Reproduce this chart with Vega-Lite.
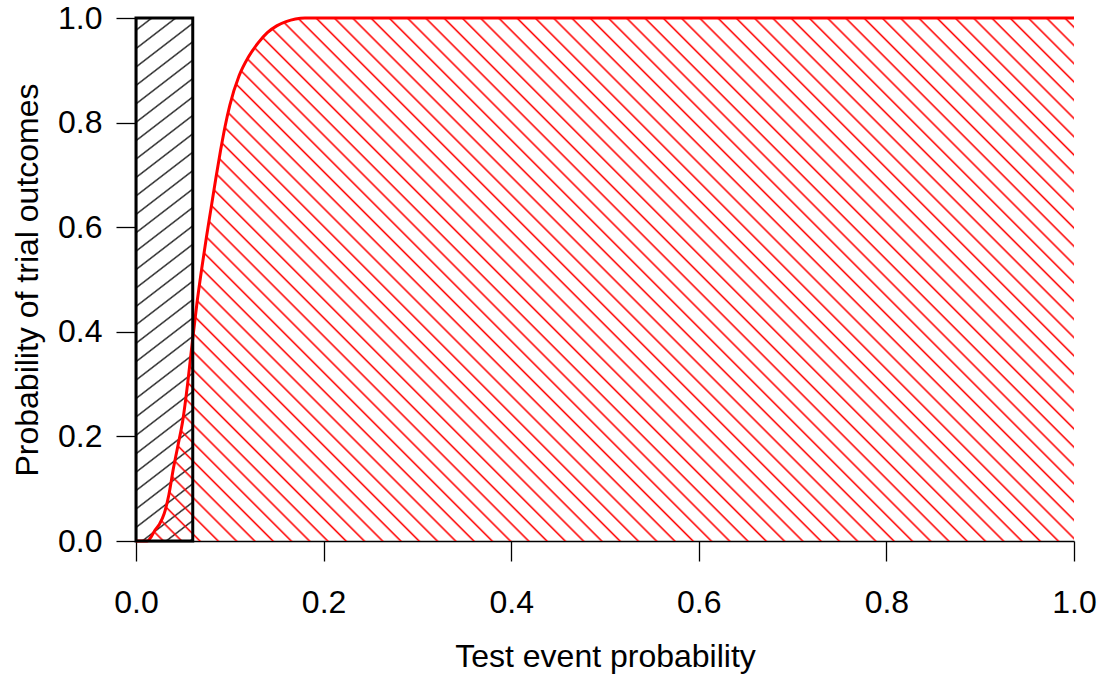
{
  "$schema": "https://vega.github.io/schema/vega-lite/v6.json",
  "width": 938,
  "height": 523,
  "autosize": {"type": "none"},
  "padding": {"left": 136, "top": 18, "right": 27, "bottom": 136},
  "background": "white",
  "config": {
    "view": {"stroke": null},
    "font": "Liberation Sans",
    "axis": {
      "grid": false,
      "labelFontSize": 32,
      "titleFontSize": 32,
      "titleFontWeight": "normal",
      "labelColor": "#000000",
      "titleColor": "#000000",
      "domainColor": "#000000",
      "tickColor": "#000000",
      "domainWidth": 1.3,
      "tickWidth": 1.3,
      "tickSize": 20,
      "labelFlush": false,
      "labelOverlap": false
    }
  },
  "datasets": {
    "curve": [
      {"p": 0, "prob": 0},
      {"p": 0.012, "prob": 0},
      {"p": 0.015, "prob": 0.005},
      {"p": 0.02, "prob": 0.02},
      {"p": 0.025, "prob": 0.032},
      {"p": 0.03, "prob": 0.052},
      {"p": 0.035, "prob": 0.088},
      {"p": 0.04, "prob": 0.14},
      {"p": 0.045, "prob": 0.185},
      {"p": 0.05, "prob": 0.232},
      {"p": 0.055, "prob": 0.3},
      {"p": 0.06, "prob": 0.38},
      {"p": 0.065, "prob": 0.455},
      {"p": 0.07, "prob": 0.52},
      {"p": 0.075, "prob": 0.58},
      {"p": 0.08, "prob": 0.636},
      {"p": 0.085, "prob": 0.692},
      {"p": 0.09, "prob": 0.745},
      {"p": 0.095, "prob": 0.793},
      {"p": 0.1, "prob": 0.833},
      {"p": 0.11, "prob": 0.89},
      {"p": 0.12, "prob": 0.926},
      {"p": 0.13, "prob": 0.952},
      {"p": 0.14, "prob": 0.972},
      {"p": 0.15, "prob": 0.985},
      {"p": 0.16, "prob": 0.993},
      {"p": 0.17, "prob": 0.998},
      {"p": 0.18, "prob": 1},
      {"p": 1, "prob": 1}
    ],
    "box": [{"p": 0, "p2": 0.0605, "prob": 0, "prob2": 1}]
  },
  "encoding": {
    "x": {
      "field": "p",
      "type": "quantitative",
      "scale": {"domain": [0, 1], "nice": false},
      "axis": {
        "title": "Test event probability",
        "values": [0, 0.2, 0.4, 0.6, 0.8, 1],
        "format": ".1f",
        "labelPadding": 26,
        "titleX": 469,
        "titleY": 125,
        "titleBaseline": "alphabetic",
        "titleAnchor": "middle"
      }
    },
    "y": {
      "field": "prob",
      "type": "quantitative",
      "scale": {"domain": [0, 1], "nice": false},
      "axis": {
        "title": "Probability of trial outcomes",
        "values": [0, 0.2, 0.4, 0.6, 0.8, 1],
        "format": ".1f",
        "labelPadding": 14,
        "titleX": -99,
        "titleY": 261.5,
        "titleAngle": -90,
        "titleBaseline": "alphabetic",
        "titleAnchor": "middle"
      }
    }
  },
  "layer": [
    {
      "data": {"name": "box"},
      "mark": {
        "type": "rect",
        "strokeWidth": 0,
        "fill": {
          "gradient": "linear",
          "x1": 0, "y1": 0, "x2": 0.0899, "y2": 1.076,
          "stops": [
            {"offset": 0.0185, "color": "rgba(0,0,0,0)"}, {"offset": 0.0215, "color": "#222222"}, {"offset": 0.0245, "color": "rgba(0,0,0,0)"},
            {"offset": 0.051, "color": "rgba(0,0,0,0)"}, {"offset": 0.054, "color": "#222222"}, {"offset": 0.057, "color": "rgba(0,0,0,0)"},
            {"offset": 0.0835, "color": "rgba(0,0,0,0)"}, {"offset": 0.0865, "color": "#222222"}, {"offset": 0.0895, "color": "rgba(0,0,0,0)"},
            {"offset": 0.116, "color": "rgba(0,0,0,0)"}, {"offset": 0.119, "color": "#222222"}, {"offset": 0.122, "color": "rgba(0,0,0,0)"},
            {"offset": 0.1485, "color": "rgba(0,0,0,0)"}, {"offset": 0.1515, "color": "#222222"}, {"offset": 0.1545, "color": "rgba(0,0,0,0)"},
            {"offset": 0.181, "color": "rgba(0,0,0,0)"}, {"offset": 0.184, "color": "#222222"}, {"offset": 0.187, "color": "rgba(0,0,0,0)"},
            {"offset": 0.2135, "color": "rgba(0,0,0,0)"}, {"offset": 0.2165, "color": "#222222"}, {"offset": 0.2195, "color": "rgba(0,0,0,0)"},
            {"offset": 0.246, "color": "rgba(0,0,0,0)"}, {"offset": 0.249, "color": "#222222"}, {"offset": 0.252, "color": "rgba(0,0,0,0)"},
            {"offset": 0.2785, "color": "rgba(0,0,0,0)"}, {"offset": 0.2815, "color": "#222222"}, {"offset": 0.2845, "color": "rgba(0,0,0,0)"},
            {"offset": 0.311, "color": "rgba(0,0,0,0)"}, {"offset": 0.314, "color": "#222222"}, {"offset": 0.317, "color": "rgba(0,0,0,0)"},
            {"offset": 0.3435, "color": "rgba(0,0,0,0)"}, {"offset": 0.3465, "color": "#222222"}, {"offset": 0.3495, "color": "rgba(0,0,0,0)"},
            {"offset": 0.376, "color": "rgba(0,0,0,0)"}, {"offset": 0.379, "color": "#222222"}, {"offset": 0.382, "color": "rgba(0,0,0,0)"},
            {"offset": 0.4085, "color": "rgba(0,0,0,0)"}, {"offset": 0.4115, "color": "#222222"}, {"offset": 0.4145, "color": "rgba(0,0,0,0)"},
            {"offset": 0.441, "color": "rgba(0,0,0,0)"}, {"offset": 0.444, "color": "#222222"}, {"offset": 0.447, "color": "rgba(0,0,0,0)"},
            {"offset": 0.4735, "color": "rgba(0,0,0,0)"}, {"offset": 0.4765, "color": "#222222"}, {"offset": 0.4795, "color": "rgba(0,0,0,0)"},
            {"offset": 0.506, "color": "rgba(0,0,0,0)"}, {"offset": 0.509, "color": "#222222"}, {"offset": 0.512, "color": "rgba(0,0,0,0)"},
            {"offset": 0.5385, "color": "rgba(0,0,0,0)"}, {"offset": 0.5415, "color": "#222222"}, {"offset": 0.5445, "color": "rgba(0,0,0,0)"},
            {"offset": 0.571, "color": "rgba(0,0,0,0)"}, {"offset": 0.574, "color": "#222222"}, {"offset": 0.577, "color": "rgba(0,0,0,0)"},
            {"offset": 0.6035, "color": "rgba(0,0,0,0)"}, {"offset": 0.6065, "color": "#222222"}, {"offset": 0.6095, "color": "rgba(0,0,0,0)"},
            {"offset": 0.636, "color": "rgba(0,0,0,0)"}, {"offset": 0.639, "color": "#222222"}, {"offset": 0.642, "color": "rgba(0,0,0,0)"},
            {"offset": 0.6685, "color": "rgba(0,0,0,0)"}, {"offset": 0.6715, "color": "#222222"}, {"offset": 0.6745, "color": "rgba(0,0,0,0)"},
            {"offset": 0.701, "color": "rgba(0,0,0,0)"}, {"offset": 0.704, "color": "#222222"}, {"offset": 0.707, "color": "rgba(0,0,0,0)"},
            {"offset": 0.7335, "color": "rgba(0,0,0,0)"}, {"offset": 0.7365, "color": "#222222"}, {"offset": 0.7395, "color": "rgba(0,0,0,0)"},
            {"offset": 0.766, "color": "rgba(0,0,0,0)"}, {"offset": 0.769, "color": "#222222"}, {"offset": 0.772, "color": "rgba(0,0,0,0)"},
            {"offset": 0.7985, "color": "rgba(0,0,0,0)"}, {"offset": 0.8015, "color": "#222222"}, {"offset": 0.8045, "color": "rgba(0,0,0,0)"},
            {"offset": 0.831, "color": "rgba(0,0,0,0)"}, {"offset": 0.834, "color": "#222222"}, {"offset": 0.837, "color": "rgba(0,0,0,0)"},
            {"offset": 0.8635, "color": "rgba(0,0,0,0)"}, {"offset": 0.8665, "color": "#222222"}, {"offset": 0.8695, "color": "rgba(0,0,0,0)"},
            {"offset": 0.896, "color": "rgba(0,0,0,0)"}, {"offset": 0.899, "color": "#222222"}, {"offset": 0.902, "color": "rgba(0,0,0,0)"},
            {"offset": 0.9285, "color": "rgba(0,0,0,0)"}, {"offset": 0.9315, "color": "#222222"}, {"offset": 0.9345, "color": "rgba(0,0,0,0)"},
            {"offset": 0.961, "color": "rgba(0,0,0,0)"}, {"offset": 0.964, "color": "#222222"}, {"offset": 0.967, "color": "rgba(0,0,0,0)"},
            {"offset": 0.9935, "color": "rgba(0,0,0,0)"}, {"offset": 0.9965, "color": "#222222"}, {"offset": 0.9995, "color": "rgba(0,0,0,0)"}
          ]
        }
      },
      "encoding": {
        "x2": {"field": "p2"},
        "y2": {"field": "prob2"}
      }
    },
    {
      "data": {"name": "curve"},
      "mark": {
        "type": "area",
        "interpolate": "monotone",
        "fill": {
          "gradient": "linear",
          "x1": 0, "y1": 1, "x2": 1.18817, "y2": 0.33751,
          "stops": [
            {"offset": 0.00475, "color": "rgba(255,0,0,0)"}, {"offset": 0.00625, "color": "#ff0000"}, {"offset": 0.00775, "color": "rgba(255,0,0,0)"},
            {"offset": 0.01725, "color": "rgba(255,0,0,0)"}, {"offset": 0.01875, "color": "#ff0000"}, {"offset": 0.02025, "color": "rgba(255,0,0,0)"},
            {"offset": 0.02975, "color": "rgba(255,0,0,0)"}, {"offset": 0.03125, "color": "#ff0000"}, {"offset": 0.03275, "color": "rgba(255,0,0,0)"},
            {"offset": 0.04225, "color": "rgba(255,0,0,0)"}, {"offset": 0.04375, "color": "#ff0000"}, {"offset": 0.04525, "color": "rgba(255,0,0,0)"},
            {"offset": 0.05475, "color": "rgba(255,0,0,0)"}, {"offset": 0.05625, "color": "#ff0000"}, {"offset": 0.05775, "color": "rgba(255,0,0,0)"},
            {"offset": 0.06725, "color": "rgba(255,0,0,0)"}, {"offset": 0.06875, "color": "#ff0000"}, {"offset": 0.07025, "color": "rgba(255,0,0,0)"},
            {"offset": 0.07975, "color": "rgba(255,0,0,0)"}, {"offset": 0.08125, "color": "#ff0000"}, {"offset": 0.08275, "color": "rgba(255,0,0,0)"},
            {"offset": 0.09225, "color": "rgba(255,0,0,0)"}, {"offset": 0.09375, "color": "#ff0000"}, {"offset": 0.09525, "color": "rgba(255,0,0,0)"},
            {"offset": 0.10475, "color": "rgba(255,0,0,0)"}, {"offset": 0.10625, "color": "#ff0000"}, {"offset": 0.10775, "color": "rgba(255,0,0,0)"},
            {"offset": 0.11725, "color": "rgba(255,0,0,0)"}, {"offset": 0.11875, "color": "#ff0000"}, {"offset": 0.12025, "color": "rgba(255,0,0,0)"},
            {"offset": 0.12975, "color": "rgba(255,0,0,0)"}, {"offset": 0.13125, "color": "#ff0000"}, {"offset": 0.13275, "color": "rgba(255,0,0,0)"},
            {"offset": 0.14225, "color": "rgba(255,0,0,0)"}, {"offset": 0.14375, "color": "#ff0000"}, {"offset": 0.14525, "color": "rgba(255,0,0,0)"},
            {"offset": 0.15475, "color": "rgba(255,0,0,0)"}, {"offset": 0.15625, "color": "#ff0000"}, {"offset": 0.15775, "color": "rgba(255,0,0,0)"},
            {"offset": 0.16725, "color": "rgba(255,0,0,0)"}, {"offset": 0.16875, "color": "#ff0000"}, {"offset": 0.17025, "color": "rgba(255,0,0,0)"},
            {"offset": 0.17975, "color": "rgba(255,0,0,0)"}, {"offset": 0.18125, "color": "#ff0000"}, {"offset": 0.18275, "color": "rgba(255,0,0,0)"},
            {"offset": 0.19225, "color": "rgba(255,0,0,0)"}, {"offset": 0.19375, "color": "#ff0000"}, {"offset": 0.19525, "color": "rgba(255,0,0,0)"},
            {"offset": 0.20475, "color": "rgba(255,0,0,0)"}, {"offset": 0.20625, "color": "#ff0000"}, {"offset": 0.20775, "color": "rgba(255,0,0,0)"},
            {"offset": 0.21725, "color": "rgba(255,0,0,0)"}, {"offset": 0.21875, "color": "#ff0000"}, {"offset": 0.22025, "color": "rgba(255,0,0,0)"},
            {"offset": 0.22975, "color": "rgba(255,0,0,0)"}, {"offset": 0.23125, "color": "#ff0000"}, {"offset": 0.23275, "color": "rgba(255,0,0,0)"},
            {"offset": 0.24225, "color": "rgba(255,0,0,0)"}, {"offset": 0.24375, "color": "#ff0000"}, {"offset": 0.24525, "color": "rgba(255,0,0,0)"},
            {"offset": 0.25475, "color": "rgba(255,0,0,0)"}, {"offset": 0.25625, "color": "#ff0000"}, {"offset": 0.25775, "color": "rgba(255,0,0,0)"},
            {"offset": 0.26725, "color": "rgba(255,0,0,0)"}, {"offset": 0.26875, "color": "#ff0000"}, {"offset": 0.27025, "color": "rgba(255,0,0,0)"},
            {"offset": 0.27975, "color": "rgba(255,0,0,0)"}, {"offset": 0.28125, "color": "#ff0000"}, {"offset": 0.28275, "color": "rgba(255,0,0,0)"},
            {"offset": 0.29225, "color": "rgba(255,0,0,0)"}, {"offset": 0.29375, "color": "#ff0000"}, {"offset": 0.29525, "color": "rgba(255,0,0,0)"},
            {"offset": 0.30475, "color": "rgba(255,0,0,0)"}, {"offset": 0.30625, "color": "#ff0000"}, {"offset": 0.30775, "color": "rgba(255,0,0,0)"},
            {"offset": 0.31725, "color": "rgba(255,0,0,0)"}, {"offset": 0.31875, "color": "#ff0000"}, {"offset": 0.32025, "color": "rgba(255,0,0,0)"},
            {"offset": 0.32975, "color": "rgba(255,0,0,0)"}, {"offset": 0.33125, "color": "#ff0000"}, {"offset": 0.33275, "color": "rgba(255,0,0,0)"},
            {"offset": 0.34225, "color": "rgba(255,0,0,0)"}, {"offset": 0.34375, "color": "#ff0000"}, {"offset": 0.34525, "color": "rgba(255,0,0,0)"},
            {"offset": 0.35475, "color": "rgba(255,0,0,0)"}, {"offset": 0.35625, "color": "#ff0000"}, {"offset": 0.35775, "color": "rgba(255,0,0,0)"},
            {"offset": 0.36725, "color": "rgba(255,0,0,0)"}, {"offset": 0.36875, "color": "#ff0000"}, {"offset": 0.37025, "color": "rgba(255,0,0,0)"},
            {"offset": 0.37975, "color": "rgba(255,0,0,0)"}, {"offset": 0.38125, "color": "#ff0000"}, {"offset": 0.38275, "color": "rgba(255,0,0,0)"},
            {"offset": 0.39225, "color": "rgba(255,0,0,0)"}, {"offset": 0.39375, "color": "#ff0000"}, {"offset": 0.39525, "color": "rgba(255,0,0,0)"},
            {"offset": 0.40475, "color": "rgba(255,0,0,0)"}, {"offset": 0.40625, "color": "#ff0000"}, {"offset": 0.40775, "color": "rgba(255,0,0,0)"},
            {"offset": 0.41725, "color": "rgba(255,0,0,0)"}, {"offset": 0.41875, "color": "#ff0000"}, {"offset": 0.42025, "color": "rgba(255,0,0,0)"},
            {"offset": 0.42975, "color": "rgba(255,0,0,0)"}, {"offset": 0.43125, "color": "#ff0000"}, {"offset": 0.43275, "color": "rgba(255,0,0,0)"},
            {"offset": 0.44225, "color": "rgba(255,0,0,0)"}, {"offset": 0.44375, "color": "#ff0000"}, {"offset": 0.44525, "color": "rgba(255,0,0,0)"},
            {"offset": 0.45475, "color": "rgba(255,0,0,0)"}, {"offset": 0.45625, "color": "#ff0000"}, {"offset": 0.45775, "color": "rgba(255,0,0,0)"},
            {"offset": 0.46725, "color": "rgba(255,0,0,0)"}, {"offset": 0.46875, "color": "#ff0000"}, {"offset": 0.47025, "color": "rgba(255,0,0,0)"},
            {"offset": 0.47975, "color": "rgba(255,0,0,0)"}, {"offset": 0.48125, "color": "#ff0000"}, {"offset": 0.48275, "color": "rgba(255,0,0,0)"},
            {"offset": 0.49225, "color": "rgba(255,0,0,0)"}, {"offset": 0.49375, "color": "#ff0000"}, {"offset": 0.49525, "color": "rgba(255,0,0,0)"},
            {"offset": 0.50475, "color": "rgba(255,0,0,0)"}, {"offset": 0.50625, "color": "#ff0000"}, {"offset": 0.50775, "color": "rgba(255,0,0,0)"},
            {"offset": 0.51725, "color": "rgba(255,0,0,0)"}, {"offset": 0.51875, "color": "#ff0000"}, {"offset": 0.52025, "color": "rgba(255,0,0,0)"},
            {"offset": 0.52975, "color": "rgba(255,0,0,0)"}, {"offset": 0.53125, "color": "#ff0000"}, {"offset": 0.53275, "color": "rgba(255,0,0,0)"},
            {"offset": 0.54225, "color": "rgba(255,0,0,0)"}, {"offset": 0.54375, "color": "#ff0000"}, {"offset": 0.54525, "color": "rgba(255,0,0,0)"},
            {"offset": 0.55475, "color": "rgba(255,0,0,0)"}, {"offset": 0.55625, "color": "#ff0000"}, {"offset": 0.55775, "color": "rgba(255,0,0,0)"},
            {"offset": 0.56725, "color": "rgba(255,0,0,0)"}, {"offset": 0.56875, "color": "#ff0000"}, {"offset": 0.57025, "color": "rgba(255,0,0,0)"},
            {"offset": 0.57975, "color": "rgba(255,0,0,0)"}, {"offset": 0.58125, "color": "#ff0000"}, {"offset": 0.58275, "color": "rgba(255,0,0,0)"},
            {"offset": 0.59225, "color": "rgba(255,0,0,0)"}, {"offset": 0.59375, "color": "#ff0000"}, {"offset": 0.59525, "color": "rgba(255,0,0,0)"},
            {"offset": 0.60475, "color": "rgba(255,0,0,0)"}, {"offset": 0.60625, "color": "#ff0000"}, {"offset": 0.60775, "color": "rgba(255,0,0,0)"},
            {"offset": 0.61725, "color": "rgba(255,0,0,0)"}, {"offset": 0.61875, "color": "#ff0000"}, {"offset": 0.62025, "color": "rgba(255,0,0,0)"},
            {"offset": 0.62975, "color": "rgba(255,0,0,0)"}, {"offset": 0.63125, "color": "#ff0000"}, {"offset": 0.63275, "color": "rgba(255,0,0,0)"},
            {"offset": 0.64225, "color": "rgba(255,0,0,0)"}, {"offset": 0.64375, "color": "#ff0000"}, {"offset": 0.64525, "color": "rgba(255,0,0,0)"},
            {"offset": 0.65475, "color": "rgba(255,0,0,0)"}, {"offset": 0.65625, "color": "#ff0000"}, {"offset": 0.65775, "color": "rgba(255,0,0,0)"},
            {"offset": 0.66725, "color": "rgba(255,0,0,0)"}, {"offset": 0.66875, "color": "#ff0000"}, {"offset": 0.67025, "color": "rgba(255,0,0,0)"},
            {"offset": 0.67975, "color": "rgba(255,0,0,0)"}, {"offset": 0.68125, "color": "#ff0000"}, {"offset": 0.68275, "color": "rgba(255,0,0,0)"},
            {"offset": 0.69225, "color": "rgba(255,0,0,0)"}, {"offset": 0.69375, "color": "#ff0000"}, {"offset": 0.69525, "color": "rgba(255,0,0,0)"},
            {"offset": 0.70475, "color": "rgba(255,0,0,0)"}, {"offset": 0.70625, "color": "#ff0000"}, {"offset": 0.70775, "color": "rgba(255,0,0,0)"},
            {"offset": 0.71725, "color": "rgba(255,0,0,0)"}, {"offset": 0.71875, "color": "#ff0000"}, {"offset": 0.72025, "color": "rgba(255,0,0,0)"},
            {"offset": 0.72975, "color": "rgba(255,0,0,0)"}, {"offset": 0.73125, "color": "#ff0000"}, {"offset": 0.73275, "color": "rgba(255,0,0,0)"},
            {"offset": 0.74225, "color": "rgba(255,0,0,0)"}, {"offset": 0.74375, "color": "#ff0000"}, {"offset": 0.74525, "color": "rgba(255,0,0,0)"},
            {"offset": 0.75475, "color": "rgba(255,0,0,0)"}, {"offset": 0.75625, "color": "#ff0000"}, {"offset": 0.75775, "color": "rgba(255,0,0,0)"},
            {"offset": 0.76725, "color": "rgba(255,0,0,0)"}, {"offset": 0.76875, "color": "#ff0000"}, {"offset": 0.77025, "color": "rgba(255,0,0,0)"},
            {"offset": 0.77975, "color": "rgba(255,0,0,0)"}, {"offset": 0.78125, "color": "#ff0000"}, {"offset": 0.78275, "color": "rgba(255,0,0,0)"},
            {"offset": 0.79225, "color": "rgba(255,0,0,0)"}, {"offset": 0.79375, "color": "#ff0000"}, {"offset": 0.79525, "color": "rgba(255,0,0,0)"},
            {"offset": 0.80475, "color": "rgba(255,0,0,0)"}, {"offset": 0.80625, "color": "#ff0000"}, {"offset": 0.80775, "color": "rgba(255,0,0,0)"},
            {"offset": 0.81725, "color": "rgba(255,0,0,0)"}, {"offset": 0.81875, "color": "#ff0000"}, {"offset": 0.82025, "color": "rgba(255,0,0,0)"},
            {"offset": 0.82975, "color": "rgba(255,0,0,0)"}, {"offset": 0.83125, "color": "#ff0000"}, {"offset": 0.83275, "color": "rgba(255,0,0,0)"},
            {"offset": 0.84225, "color": "rgba(255,0,0,0)"}, {"offset": 0.84375, "color": "#ff0000"}, {"offset": 0.84525, "color": "rgba(255,0,0,0)"},
            {"offset": 0.85475, "color": "rgba(255,0,0,0)"}, {"offset": 0.85625, "color": "#ff0000"}, {"offset": 0.85775, "color": "rgba(255,0,0,0)"},
            {"offset": 0.86725, "color": "rgba(255,0,0,0)"}, {"offset": 0.86875, "color": "#ff0000"}, {"offset": 0.87025, "color": "rgba(255,0,0,0)"},
            {"offset": 0.87975, "color": "rgba(255,0,0,0)"}, {"offset": 0.88125, "color": "#ff0000"}, {"offset": 0.88275, "color": "rgba(255,0,0,0)"},
            {"offset": 0.89225, "color": "rgba(255,0,0,0)"}, {"offset": 0.89375, "color": "#ff0000"}, {"offset": 0.89525, "color": "rgba(255,0,0,0)"},
            {"offset": 0.90475, "color": "rgba(255,0,0,0)"}, {"offset": 0.90625, "color": "#ff0000"}, {"offset": 0.90775, "color": "rgba(255,0,0,0)"},
            {"offset": 0.91725, "color": "rgba(255,0,0,0)"}, {"offset": 0.91875, "color": "#ff0000"}, {"offset": 0.92025, "color": "rgba(255,0,0,0)"},
            {"offset": 0.92975, "color": "rgba(255,0,0,0)"}, {"offset": 0.93125, "color": "#ff0000"}, {"offset": 0.93275, "color": "rgba(255,0,0,0)"},
            {"offset": 0.94225, "color": "rgba(255,0,0,0)"}, {"offset": 0.94375, "color": "#ff0000"}, {"offset": 0.94525, "color": "rgba(255,0,0,0)"},
            {"offset": 0.95475, "color": "rgba(255,0,0,0)"}, {"offset": 0.95625, "color": "#ff0000"}, {"offset": 0.95775, "color": "rgba(255,0,0,0)"},
            {"offset": 0.96725, "color": "rgba(255,0,0,0)"}, {"offset": 0.96875, "color": "#ff0000"}, {"offset": 0.97025, "color": "rgba(255,0,0,0)"},
            {"offset": 0.97975, "color": "rgba(255,0,0,0)"}, {"offset": 0.98125, "color": "#ff0000"}, {"offset": 0.98275, "color": "rgba(255,0,0,0)"},
            {"offset": 0.99225, "color": "rgba(255,0,0,0)"}, {"offset": 0.99375, "color": "#ff0000"}, {"offset": 0.99525, "color": "rgba(255,0,0,0)"}
          ]
        }
      }
    },
    {
      "data": {"name": "curve"},
      "mark": {"type": "line", "interpolate": "monotone", "color": "#ff0000", "strokeWidth": 3}
    },
    {
      "data": {"name": "box"},
      "mark": {"type": "rect", "fill": null, "fillOpacity": 0, "stroke": "#000000", "strokeWidth": 3},
      "encoding": {
        "x2": {"field": "p2"},
        "y2": {"field": "prob2"}
      }
    }
  ]
}
